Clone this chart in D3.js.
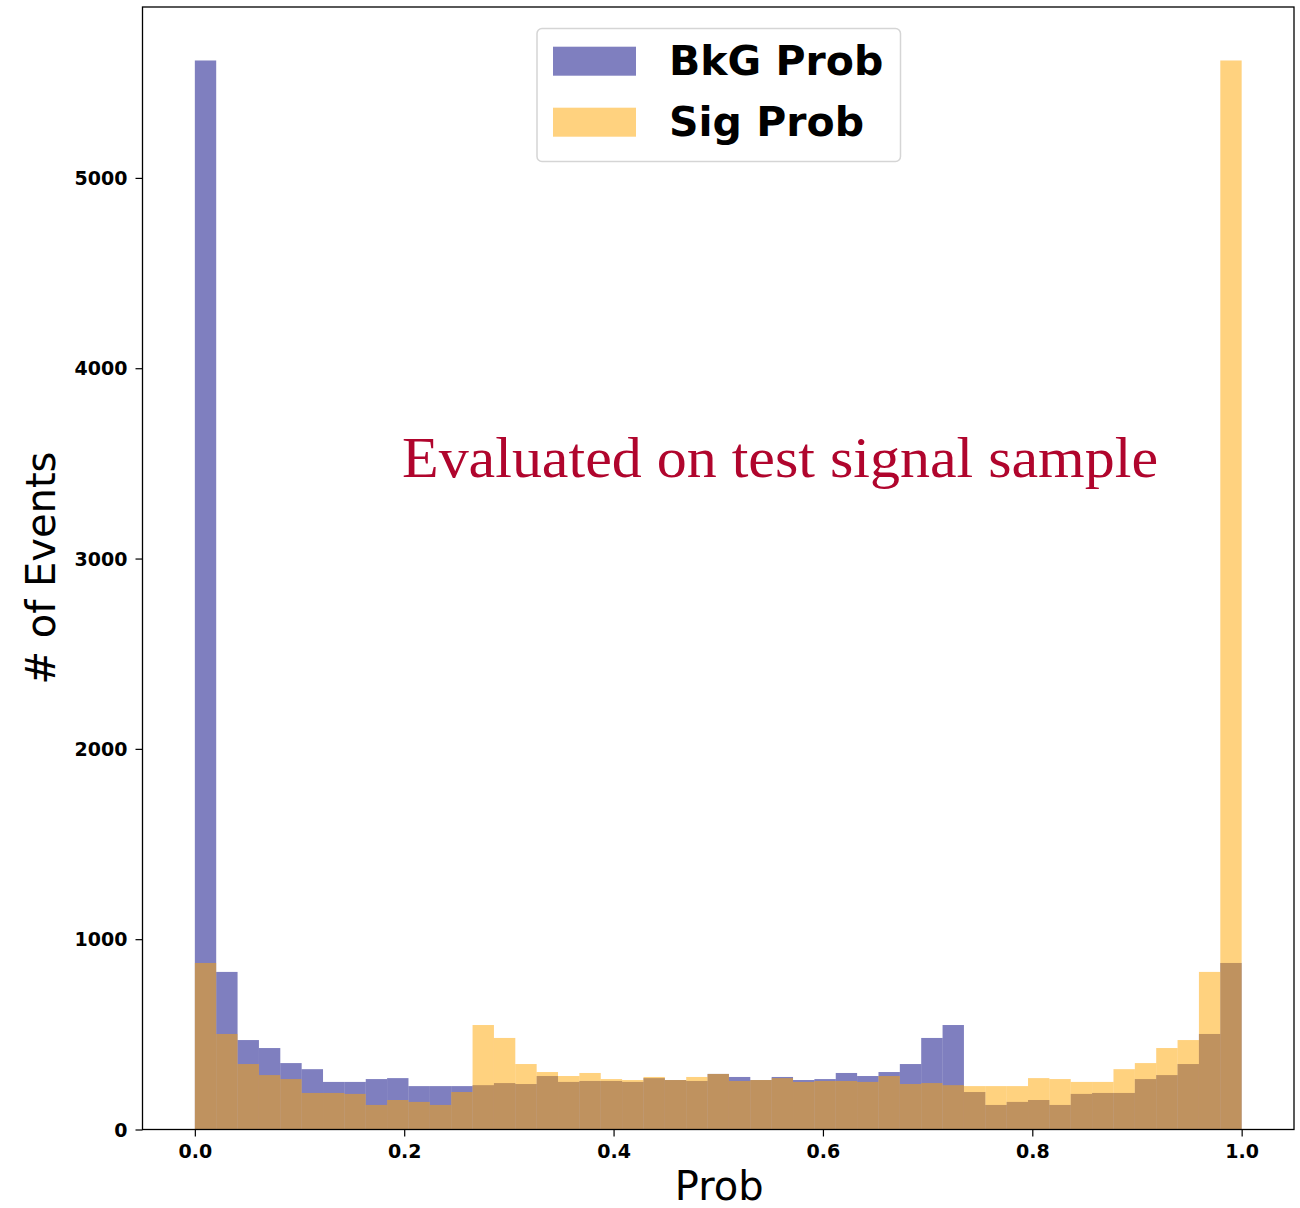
<!DOCTYPE html>
<html>
<head>
<meta charset="utf-8">
<script src="https://cdn.jsdelivr.net/npm/d3@7"></script>
<style>
  html, body { margin: 0; padding: 0; background: #fff; }
  svg { display: block; }
</style>
</head>
<body>
<svg id="chart" width="1300" height="1208"></svg>
<script>
// ---- data (49 equal-width bins on [0, 1]) ----
const binCount = 49;
const bkgCounts = [5617, 828, 470, 428, 349, 317, 250, 250, 265, 270, 228, 228, 228, 233, 244, 239, 281, 250, 255, 255, 250, 270, 260, 255, 292,
                   276, 260, 276, 260, 265, 297, 281, 302, 344, 481, 549, 197, 129, 145, 155, 129, 187, 192, 192, 265, 286, 344, 502, 875];
const sigCounts = [875, 502, 344, 286, 265, 192, 192, 187, 129, 155, 145, 129, 197, 549, 481, 344, 302, 281, 297, 265, 260, 276, 260, 276, 292,
                   255, 260, 270, 250, 255, 255, 250, 281, 239, 244, 233, 228, 228, 228, 270, 265, 250, 250, 317, 349, 428, 470, 828, 5617];
const seriesNames = ["BkG Prob", "Sig Prob"];
const xTicks = [0.0, 0.2, 0.4, 0.6, 0.8, 1.0];
const yTicks = [0, 1000, 2000, 3000, 4000, 5000];
const annotation = "Evaluated on test signal sample";

// ---- layout ----
const svg = d3.select("#chart");
const L = 142.5, R = 1294, T = 7, B = 1129.5;
const x = d3.scaleLinear().domain([-0.05, 1.05]).range([L, R]);
const y = d3.scaleLinear().domain([0, 5898]).range([B, T]);

const colors = ["rgba(0,0,128,0.5)", "rgba(255,165,0,0.5)"];

function drawHist(counts, color) {
  svg.append("g").selectAll("rect")
    .data(counts)
    .join("rect")
    .attr("x", (d, i) => x(i / binCount))
    .attr("width", (d, i) => x((i + 1) / binCount) - x(i / binCount))
    .attr("y", d => y(d))
    .attr("height", d => y(0) - y(d))
    .attr("fill", color);
}
drawHist(bkgCounts, colors[0]);
drawHist(sigCounts, colors[1]);

// ---- axes ----
const xAxis = d3.axisBottom(x).tickValues(xTicks).tickFormat(d3.format(".1f")).tickSizeOuter(0).tickSize(7).tickPadding(8);
const yAxis = d3.axisLeft(y).tickValues(yTicks).tickFormat(d3.format("d")).tickSizeOuter(0).tickSize(7).tickPadding(8);

const gx = svg.append("g").attr("transform", `translate(0,${B})`).call(xAxis);
const gy = svg.append("g").attr("transform", `translate(${L},0)`).call(yAxis);
[gx, gy].forEach(g => {
  g.select(".domain").remove();
  g.selectAll(".tick line").attr("stroke", "#000").attr("stroke-width", 1.2);
  g.selectAll(".tick text")
    .attr("fill", "#000")
    .style("font-family", "'DejaVu Sans', sans-serif")
    .style("font-weight", "bold")
    .style("font-size", "19px");
});
gy.selectAll(".tick text").attr("dy", "0.35em");

// frame
svg.append("rect")
  .attr("x", L).attr("y", T)
  .attr("width", R - L).attr("height", B - T)
  .attr("fill", "none").attr("stroke", "#000").attr("stroke-width", 1.3);

// axis labels
svg.append("text")
  .attr("x", (L + R) / 2 + 1).attr("y", 1200)
  .attr("text-anchor", "middle")
  .style("font-family", "'DejaVu Sans', sans-serif")
  .style("font-size", "40px")
  .text("Prob");

svg.append("text")
  .attr("transform", "translate(55,568) rotate(-90)")
  .attr("text-anchor", "middle")
  .style("font-family", "'DejaVu Sans', sans-serif")
  .style("font-size", "40px")
  .text("# of Events");

// annotation
svg.append("text")
  .attr("x", 402).attr("y", 477)
  .attr("fill", "#b0052d")
  .attr("textLength", 756)
  .attr("lengthAdjust", "spacingAndGlyphs")
  .style("font-family", "'Liberation Serif', serif")
  .style("font-size", "58px")
  .text(annotation);

// legend
const lg = svg.append("g");
lg.append("rect")
  .attr("x", 537).attr("y", 28.5)
  .attr("width", 363.5).attr("height", 133)
  .attr("rx", 5).attr("ry", 5)
  .attr("fill", "rgba(255,255,255,0.8)")
  .attr("stroke", "#d5d5d5").attr("stroke-width", 1.5);
seriesNames.forEach((name, i) => {
  const yy = 46.7 + i * 61;
  lg.append("rect")
    .attr("x", 553).attr("y", yy)
    .attr("width", 83).attr("height", 29)
    .attr("fill", colors[i]);
  lg.append("text")
    .attr("x", 669).attr("y", 75 + i * 60.7)
    .style("font-family", "'DejaVu Sans', sans-serif")
    .style("font-weight", "bold")
    .style("font-size", "41px")
    .text(name);
});
</script>
</body>
</html>
